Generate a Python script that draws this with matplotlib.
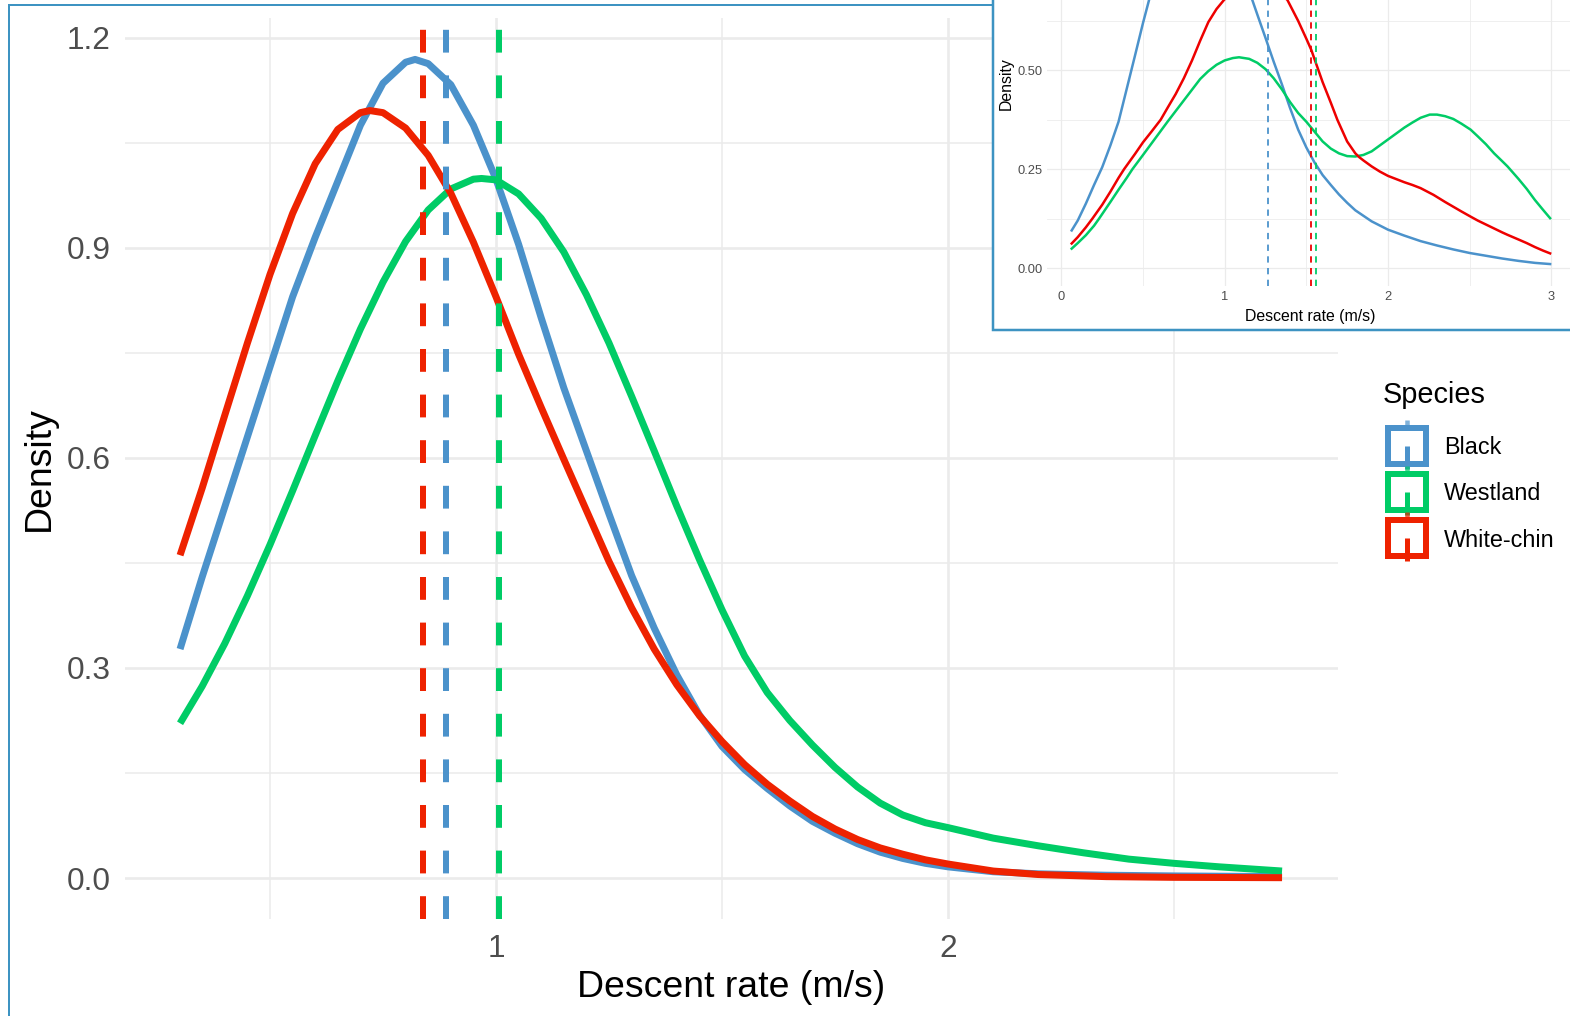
import matplotlib
matplotlib.use('Agg')
import matplotlib.pyplot as plt
from matplotlib.patches import Rectangle
from matplotlib.lines import Line2D

plt.rcParams['font.family'] = ['Liberation Sans', 'DejaVu Sans']

# ---------------- data ----------------
species = ['Black', 'Westland', 'White-chin']

# main panel density curves (descent rate m/s, density)
black_x = [0.301, 0.35, 0.40, 0.45, 0.50, 0.55, 0.60, 0.65, 0.70, 0.75, 0.80, 0.821, 0.85, 0.90, 0.95,
           1.00, 1.05, 1.10, 1.15, 1.20, 1.25, 1.30, 1.35, 1.40, 1.45, 1.50, 1.55, 1.60, 1.65, 1.70,
           1.75, 1.80, 1.85, 1.90, 1.95, 2.00, 2.10, 2.20, 2.35, 2.50, 2.739]
black_y = [0.327, 0.430, 0.530, 0.630, 0.730, 0.830, 0.915, 0.995, 1.075, 1.135, 1.165, 1.169, 1.163,
           1.133, 1.075, 0.998, 0.905, 0.800, 0.700, 0.610, 0.520, 0.432, 0.357, 0.290, 0.233, 0.188,
           0.155, 0.128, 0.103, 0.081, 0.064, 0.049, 0.037, 0.028, 0.021, 0.016, 0.009, 0.006, 0.004,
           0.003, 0.002]

westland_x = [0.301, 0.35, 0.40, 0.45, 0.50, 0.55, 0.60, 0.65, 0.70, 0.75, 0.80, 0.85, 0.90, 0.95, 0.968,
              1.00, 1.05, 1.10, 1.15, 1.20, 1.25, 1.30, 1.35, 1.40, 1.45, 1.50, 1.55, 1.60, 1.65, 1.70,
              1.75, 1.80, 1.85, 1.90, 1.95, 2.00, 2.10, 2.20, 2.30, 2.40, 2.50, 2.60, 2.739]
westland_y = [0.221, 0.274, 0.335, 0.403, 0.476, 0.553, 0.632, 0.710, 0.784, 0.851, 0.909, 0.954, 0.984,
              0.998, 0.999, 0.997, 0.977, 0.942, 0.894, 0.833, 0.764, 0.688, 0.610, 0.531, 0.455, 0.383,
              0.317, 0.265, 0.225, 0.190, 0.158, 0.130, 0.107, 0.090, 0.079, 0.072, 0.057, 0.046, 0.036,
              0.027, 0.021, 0.016, 0.010]

whitechin_x = [0.301, 0.35, 0.40, 0.45, 0.50, 0.55, 0.60, 0.65, 0.70, 0.721, 0.75, 0.80, 0.85, 0.90, 0.95,
               1.00, 1.05, 1.10, 1.15, 1.20, 1.25, 1.30, 1.35, 1.40, 1.45, 1.50, 1.55, 1.60, 1.65, 1.70,
               1.75, 1.80, 1.85, 1.90, 1.95, 2.00, 2.10, 2.20, 2.35, 2.50, 2.739]
whitechin_y = [0.461, 0.557, 0.661, 0.764, 0.862, 0.949, 1.020, 1.069, 1.093, 1.096, 1.093, 1.071, 1.032,
               0.978, 0.908, 0.830, 0.748, 0.672, 0.598, 0.525, 0.452, 0.386, 0.327, 0.276, 0.232, 0.195,
               0.162, 0.134, 0.110, 0.088, 0.070, 0.055, 0.043, 0.034, 0.026, 0.020, 0.010, 0.005, 0.002,
               0.001, 0.0005]

# mean descent rates (main panel)
mean_main = [0.889, 1.007, 0.838]

# inset density curves
in_black_x = [0.063, 0.10, 0.15, 0.20, 0.25, 0.30, 0.35, 0.40, 0.45, 0.50, 0.537, 0.60, 0.70, 0.80, 0.85,
              0.95, 1.05, 1.10, 1.169, 1.20, 1.25, 1.30, 1.35, 1.40, 1.45, 1.50, 1.55, 1.60, 1.65, 1.70,
              1.75, 1.80, 1.85, 1.90, 2.00, 2.10, 2.20, 2.30, 2.40, 2.50, 2.60, 2.70, 2.80, 2.90, 2.993]
in_black_y = [0.095, 0.120, 0.163, 0.210, 0.255, 0.310, 0.370, 0.453, 0.536, 0.620, 0.678, 0.770, 0.870,
              0.920, 0.927, 0.905, 0.820, 0.760, 0.678, 0.641, 0.582, 0.522, 0.465, 0.405, 0.350, 0.305,
              0.267, 0.235, 0.210, 0.186, 0.165, 0.146, 0.132, 0.118, 0.097, 0.082, 0.068, 0.057, 0.047,
              0.038, 0.031, 0.024, 0.018, 0.013, 0.010]

in_westland_x = [0.063, 0.10, 0.15, 0.20, 0.231, 0.30, 0.35, 0.40, 0.435, 0.50, 0.55, 0.60, 0.65, 0.70,
                 0.75, 0.80, 0.85, 0.90, 0.95, 1.00, 1.05, 1.088, 1.15, 1.20, 1.25, 1.30, 1.35, 1.40, 1.45,
                 1.50, 1.55, 1.60, 1.65, 1.70, 1.75, 1.80, 1.85, 1.90, 1.95, 2.00, 2.05, 2.10, 2.15, 2.20,
                 2.256, 2.30, 2.35, 2.40, 2.45, 2.506, 2.55, 2.60, 2.65, 2.70, 2.732, 2.80, 2.85, 2.90,
                 2.95, 2.993]
in_westland_y = [0.049, 0.063, 0.083, 0.107, 0.125, 0.167, 0.198, 0.228, 0.250, 0.286, 0.314, 0.342,
                 0.370, 0.397, 0.424, 0.451, 0.478, 0.498, 0.514, 0.525, 0.531, 0.533, 0.529, 0.519,
                 0.503, 0.480, 0.452, 0.420, 0.392, 0.370, 0.345, 0.320, 0.302, 0.290, 0.283, 0.282,
                 0.286, 0.295, 0.310, 0.325, 0.340, 0.355, 0.368, 0.380, 0.388, 0.388, 0.384, 0.377,
                 0.365, 0.350, 0.333, 0.313, 0.290, 0.270, 0.257, 0.225, 0.200, 0.172, 0.147, 0.126]

in_whitechin_x = [0.063, 0.10, 0.15, 0.19, 0.25, 0.30, 0.35, 0.384, 0.45, 0.50, 0.55, 0.608, 0.65, 0.70,
                  0.75, 0.80, 0.85, 0.90, 0.95, 0.996, 1.05, 1.10, 1.20, 1.30, 1.384, 1.45, 1.50, 1.53,
                  1.60, 1.65, 1.69, 1.75, 1.80, 1.825, 1.85, 1.90, 1.95, 2.00, 2.05, 2.10, 2.15, 2.20,
                  2.279, 2.35, 2.40, 2.45, 2.506, 2.55, 2.60, 2.65, 2.70, 2.732, 2.80, 2.85, 2.90, 2.95,
                  2.993]
in_whitechin_y = [0.062, 0.078, 0.103, 0.125, 0.160, 0.193, 0.228, 0.250, 0.288, 0.318, 0.344, 0.375,
                  0.405, 0.440, 0.480, 0.525, 0.575, 0.622, 0.655, 0.678, 0.700, 0.720, 0.730, 0.710,
                  0.678, 0.625, 0.580, 0.552, 0.470, 0.418, 0.375, 0.320, 0.290, 0.280, 0.272, 0.257,
                  0.244, 0.233, 0.225, 0.217, 0.210, 0.202, 0.185, 0.167, 0.155, 0.143, 0.130, 0.120,
                  0.110, 0.100, 0.090, 0.084, 0.072, 0.063, 0.053, 0.044, 0.037]

mean_inset = [1.267, 1.560, 1.530]

main_xticks = [1, 2]
main_xticklabels = ['1', '2']
main_yticks = [0.0, 0.3, 0.6, 0.9, 1.2]
main_yticklabels = ['0.0', '0.3', '0.6', '0.9', '1.2']
inset_xticks = [0, 1, 2, 3]
inset_xticklabels = ['0', '1', '2', '3']
inset_yticks = [0.0, 0.25, 0.50]
inset_yticklabels = ['0.00', '0.25', '0.50']

# ---------------- style ----------------
colors_main = ['#4B92CB', '#00CC66', '#EE2200']
colors_inset = ['#4B92CB', '#00CC66', '#EE0000']
FRAME = '#3D93C2'
GRID = '#EBEBEB'

W, H = 1570, 1016
DPI = 100
PT = 72.0 / DPI  # points per pixel


def fx(px):
    return px / W


def fy(py):
    return 1 - py / H


fig = plt.figure(figsize=(W / DPI, H / DPI), dpi=DPI)
fig.patch.set_facecolor('white')

# ---------------- main panel ----------------
ax = fig.add_axes([fx(125), fy(919), (1338 - 125) / W, (919 - 18.4) / H], zorder=0)
ax.set_facecolor('white')
curves = [(black_x, black_y), (westland_x, westland_y), (whitechin_x, whitechin_y)]
for (xs, ys), c in zip(curves, colors_main):
    ax.plot(xs, ys, color=c, lw=7 * PT, solid_capstyle='butt', solid_joinstyle='round', zorder=3)
for m, c in zip(mean_main, colors_main):
    ax.axvline(m, color=c, lw=6 * PT, linestyle=(0, (3.8, 3.8)), dash_capstyle='butt', zorder=4)

ax.set_xlim(0.1792, 2.8628)
ax.set_ylim(-0.0585, 1.2276)
ax.set_xticks(main_xticks)
ax.set_xticklabels(main_xticklabels)
ax.set_xticks([0.5, 1.5, 2.5], minor=True)
ax.set_yticks(main_yticks)
ax.set_yticklabels(main_yticklabels)
ax.set_yticks([0.15, 0.45, 0.75, 1.05], minor=True)
ax.grid(which='major', color=GRID, lw=2.6 * PT, zorder=0)
ax.grid(which='minor', color=GRID, lw=1.5 * PT, zorder=0)
ax.set_axisbelow(True)
for s in ax.spines.values():
    s.set_visible(False)
ax.tick_params(which='both', length=0)
ax.tick_params(axis='y', labelsize=22.8, labelcolor='#4D4D4D', pad=10.5)
ax.tick_params(axis='x', labelsize=22.8, labelcolor='#4D4D4D', pad=11)
ax.set_xlabel('Descent rate (m/s)', fontsize=26.9, color='black')
ax.xaxis.label.set_va('baseline')
ax.xaxis.set_label_coords(0.5, (919 - 997) / (919 - 18.4))
ax.set_ylabel('Density', fontsize=26.9, color='black')
ax.yaxis.label.set_va('center')
ax.yaxis.label.set_ha('center')
ax.yaxis.set_label_coords((39 - 125) / (1338 - 125), 0.5)

# main frame border
fig.patches.append(Rectangle((fx(8.5), fy(1100)), fx(1700) - fx(8.5), fy(5.5) - fy(1100),
                             transform=fig.transFigure, fill=False, edgecolor=FRAME,
                             lw=2 * PT, zorder=1.5))

# ---------------- inset ----------------
fig.patches.append(Rectangle((fx(992.5), fy(330)), fx(1700) - fx(992.5), fy(-50) - fy(330),
                             transform=fig.transFigure, facecolor='white', edgecolor=FRAME,
                             lw=2.5 * PT, zorder=2))

ax2 = fig.add_axes([fx(1047.4), fy(286.2), (1573.8 - 1047.4) / W, (286.2 + 117.1) / H], zorder=3)
ax2.set_facecolor('white')
icurves = [(in_black_x, in_black_y), (in_westland_x, in_westland_y), (in_whitechin_x, in_whitechin_y)]
for (xs, ys), c in zip(icurves, colors_inset):
    ax2.plot(xs, ys, color=c, lw=2.5 * PT, solid_joinstyle='round', zorder=3)
for m, c in zip(mean_inset, colors_inset):
    ax2.axvline(m, color=c, lw=1.8 * PT, linestyle=(0, (3.5, 3.0)), zorder=4)
ax2.set_xlim(-0.0857, 3.1381)
ax2.set_ylim(-0.046, 0.974)
ax2.set_xticks(inset_xticks)
ax2.set_xticklabels(inset_xticklabels)
ax2.set_xticks([0.5, 1.5, 2.5], minor=True)
ax2.set_yticks(inset_yticks)
ax2.set_yticklabels(inset_yticklabels)
ax2.set_yticks([0.125, 0.375, 0.625, 0.75, 0.875], minor=True)
ax2.grid(which='major', color=GRID, lw=1.3 * PT, zorder=0)
ax2.grid(which='minor', color=GRID, lw=0.8 * PT, zorder=0)
ax2.set_axisbelow(True)
for s in ax2.spines.values():
    s.set_visible(False)
ax2.tick_params(which='both', length=0)
ax2.tick_params(axis='both', labelsize=9.3, labelcolor='#4D4D4D', pad=3.5)
ax2.set_xlabel('Descent rate (m/s)', fontsize=11.4, color='black')
ax2.xaxis.label.set_va('baseline')
ax2.xaxis.set_label_coords(0.5, (286.2 - 321) / (286.2 + 117.1))
ax2.set_ylabel('Density', fontsize=11.4, color='black')
ax2.yaxis.label.set_va('center')
ax2.yaxis.label.set_ha('center')
ax2.yaxis.set_label_coords((1006 - 1047.4) / (1573.8 - 1047.4), (286.2 - 84) / (286.2 + 117.1))

# ---------------- legend ----------------
fig.text(fx(1383), fy(403), 'Species', fontsize=20.8, color='black', ha='left', va='baseline')
key_cy = [445.8, 491.7, 537.8]
label_base = [453.5, 500.0, 546.7]
for name, c, cy, lb in zip(species, colors_main, key_cy, label_base):
    fig.patches.append(Rectangle((fx(1388), fy(cy + 18)), fx(1426) - fx(1388), fy(cy - 18) - fy(cy + 18),
                                 transform=fig.transFigure, fill=False, edgecolor=c,
                                 lw=6 * PT, zorder=5))
    fig.lines.append(Line2D([fx(1407), fx(1407)], [fy(cy), fy(cy + 23)], transform=fig.transFigure,
                            color=c, lw=5 * PT, solid_capstyle='butt', zorder=6))
    fig.lines.append(Line2D([fx(1407), fx(1407)], [fy(cy - 26), fy(cy - 17)], transform=fig.transFigure,
                            color=c, lw=4.5 * PT, solid_capstyle='butt', zorder=6, alpha=0.7))
    fig.text(fx(1444), fy(lb), name, fontsize=16.8, color='black', ha='left', va='baseline')

fig.savefig('out.png', dpi=DPI, facecolor='white')
